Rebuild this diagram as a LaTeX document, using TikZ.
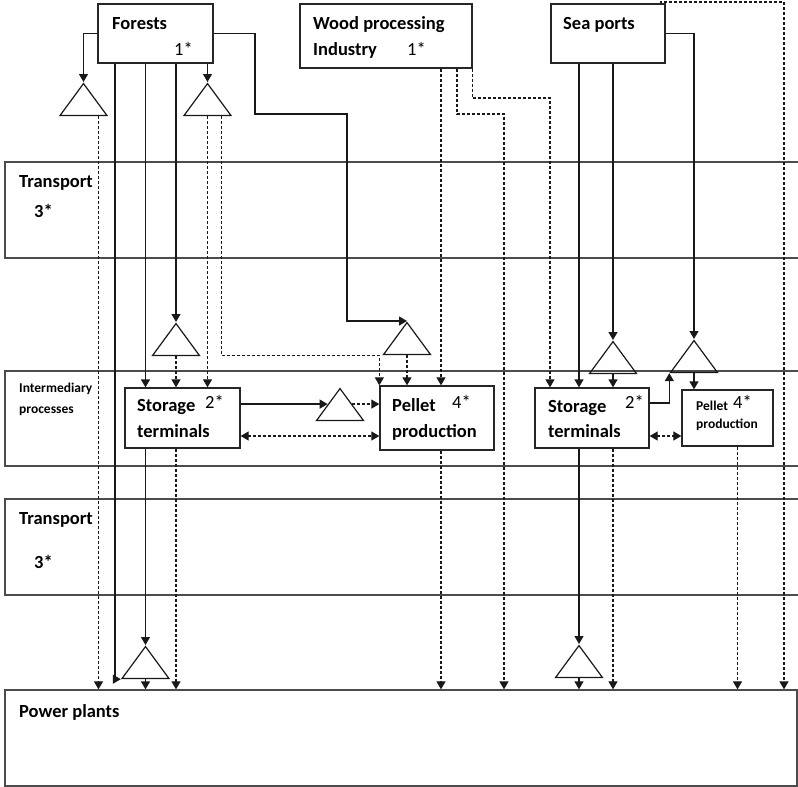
\documentclass[tikz,border=0pt]{standalone}
\usepackage{fontspec}
\setmainfont{Carlito}
\usetikzlibrary{positioning, arrows.meta, shapes.geometric}

\begin{document}
\begin{tikzpicture}[x=1pt, y=-1pt, >={Triangle[length=8pt, width=9pt]}]
        \tikzstyle{band} = [draw=black!70, line width=1.3pt, rectangle, minimum width=800, minimum height=96, inner sep=0]
        \tikzstyle{srcbox} = [draw=black!85, line width=1.3pt, rectangle, inner sep=0]
        \tikzstyle{hub} = [draw=black!90, line width=1.2pt, isosceles triangle, isosceles triangle stretches, shape border rotate=90, minimum width=47, minimum height=32, inner sep=0, anchor=apex]
        \tikzstyle{txt} = [inner sep=0, anchor=base west, font=\bfseries\fontsize{18.5}{20}\selectfont]
        \tikzstyle{smalltxt} = [txt, font=\bfseries\fontsize{13.5}{15}\selectfont]
        \tikzstyle{num} = [txt, font=\fontsize{18.5}{20}\selectfont]
        \tikzstyle{flow} = [draw=black!90, line width=1.3pt, ->]
        \tikzstyle{dflow} = [flow, line width=1.2pt, dash pattern=on 3pt off 2pt]

        \useasboundingbox (0,0) rectangle (798,787);

        % bands
        \node[band] (trans1) at (405,210) {};
        \node[band, minimum height=95] (inter) at (405,418.5) {};
        \node[band] (trans2) at (405,547) {};
        \node[band, minimum width=792] (power) at (401,738) {};

        % sources and processes
        \node[srcbox, minimum width=115, minimum height=59] (forests) at (155.5,33.5) {};
        \node[srcbox, minimum width=172, minimum height=64] (wood) at (386,36) {};
        \node[srcbox, minimum width=114, minimum height=59] (sea) at (608,33.5) {};
        \node[srcbox, minimum width=115, minimum height=60] (stor1) at (182.5,418) {};
        \node[srcbox, minimum width=114, minimum height=64] (pellet1) at (437,418) {};
        \node[srcbox, minimum width=114, minimum height=60] (stor2) at (592,418) {};
        \node[srcbox, minimum width=91, minimum height=56] (pellet2) at (727.5,418) {};

        % transfer points
        \node[hub] (hubA) at (83.5,82) {};
        \node[hub] (hubB) at (207.5,82) {};
        \node[hub] (hubC) at (176,322) {};
        \node[hub] (hubD) at (340,387) {};
        \node[hub] (hubE) at (407,321) {};
        \node[hub] (hubF) at (613,340) {};
        \node[hub] (hubG) at (694,339) {};
        \node[hub] (hubH) at (145.5,645) {};
        \node[hub] (hubI) at (579,644) {};

        % forests
        \draw[flow] (forests.west) -| (hubA.apex);
        \draw[flow] (forests.south -| hubB.apex) -- (hubB.apex);
        \draw[flow] (forests.east) -| (255,114) -| ([xshift=-60]hubE.apex) -- (hubE.apex);
        \coordinate (fa) at ([xshift=17.5]forests.south west);
        \draw[flow] (fa) |- (hubH.left corner);
        \draw[flow] (forests.south -| hubH.apex) -- (stor1.north -| hubH.apex);
        \draw[flow] (forests.south -| hubC.apex) -- (hubC.apex);
        \coordinate (aa) at ([xshift=15]hubA.south);
        \draw[dflow] (aa) -- (aa |- power.north);
        \draw[dflow] (hubB.south) -- (hubB.south |- stor1.north);
        \coordinate (bb) at ([xshift=14]hubB.south);
        \draw[dflow] (bb) |- ([yshift=30]pellet1.north west) -- (pellet1.north west);
        \draw[dflow] (hubC.south) -- (hubC.south |- stor1.north);

        % left storage
        \draw[flow] (stor1.east |- hubD.left side) -- (hubD.left side);
        \draw[dflow] (hubD.right side) -- (hubD.right side -| pellet1.west);
        \draw[dflow, <->] ([yshift=-18]stor1.east) -- ([yshift=-18]pellet1.west);
        \draw[flow] (stor1.south -| hubH.apex) -- (hubH.apex);
        \draw[dflow] (stor1.south -| hubC.apex) -- (power.north -| hubC.apex);
        \draw[flow] (hubH.south) -- (hubH.south |- power.north);

        % wood processing
        \draw[dflow] (hubE.south) -- (hubE.south |- pellet1.north);
        \coordinate (wa) at ([xshift=55]wood.south);
        \draw[dflow] (wa) -- (wa |- pellet1.north);
        \draw[dflow] (pellet1.south -| wa) -- (power.north -| wa);
        \coordinate (wb) at ([xshift=71]wood.south);
        \coordinate (wbturn) at (504,114);
        \draw[dflow] (wb) |- (wbturn) -- (wbturn |- power.north);
        \coordinate (wcturn) at (550,98);
        \draw[dflow] (wood.south east) |- (wcturn) -- (wcturn |- stor2.north);

        % sea ports
        \draw[flow] (sea.south -| hubI.apex) -- (stor2.north -| hubI.apex);
        \draw[flow] (stor2.south -| hubI.apex) -- (hubI.apex);
        \draw[flow] (hubI.south) -- (hubI.south |- power.north);
        \draw[flow] (sea.south -| hubF.apex) -- (hubF.apex);
        \draw[flow] (hubF.south) -- (hubF.south |- stor2.north);
        \draw[dflow] (stor2.south -| hubF.apex) -- (power.north -| hubF.apex);
        \draw[flow] (sea.east) -| (hubG.apex);
        \draw[flow] (hubG.south) -- (hubG.south |- pellet2.north);
        \draw[flow] ([yshift=15]stor2.east) -| (hubG.left corner);
        \draw[dflow, <->] ([yshift=-18]stor2.east) -- ([yshift=-18]pellet2.west);
        \coordinate (pb) at ([xshift=10]pellet2.south);
        \draw[dflow] (pb) -- (pb |- power.north);
        \coordinate (seturn) at (784,2);
        \draw[dflow] ([xshift=-5]sea.north east) |- (seturn) -- (seturn |- power.north);

        % texts
        \node[txt] (forestsT) at (112,29) {Forests};
        \node[num] (forestsN) at (174,55) {1*};
        \node[txt] (woodT) at (313,29) {Wood processing};
        \node[txt] (woodT2) at (313,55) {Industry};
        \node[num] (woodN) at (407,55) {1*};
        \node[txt] (seaT) at (563,29) {Sea ports};
        \node[txt] (trans1T) at (19,187) {Transport};
        \node[txt] (trans1N) at (34,217) {3*};
        \node[smalltxt] (interT) at (19,392) {Intermediary};
        \node[smalltxt] (interT2) at (19,413) {processes};
        \node[txt] (stor1T) at (137,411) {Storage};
        \node[num] (stor1N) at (205,408) {2*};
        \node[txt] (stor1T2) at (137,437) {terminals};
        \node[txt] (pellet1T) at (392,411) {Pellet};
        \node[num] (pellet1N) at (452,408) {4*};
        \node[txt] (pellet1T2) at (392,437) {production};
        \node[txt] (stor2T) at (548,412) {Storage};
        \node[num] (stor2N) at (625,408) {2*};
        \node[txt] (stor2T2) at (548,437) {terminals};
        \node[smalltxt] (pellet2T) at (696,410) {Pellet};
        \node[num] (pellet2N) at (733,408) {4*};
        \node[smalltxt] (pellet2T2) at (696,428) {production};
        \node[txt] (trans2T) at (19,524) {Transport};
        \node[txt] (trans2N) at (34,568) {3*};
        \node[txt] (powerT) at (19,717) {Power plants};
    \end{tikzpicture}
\end{document}
